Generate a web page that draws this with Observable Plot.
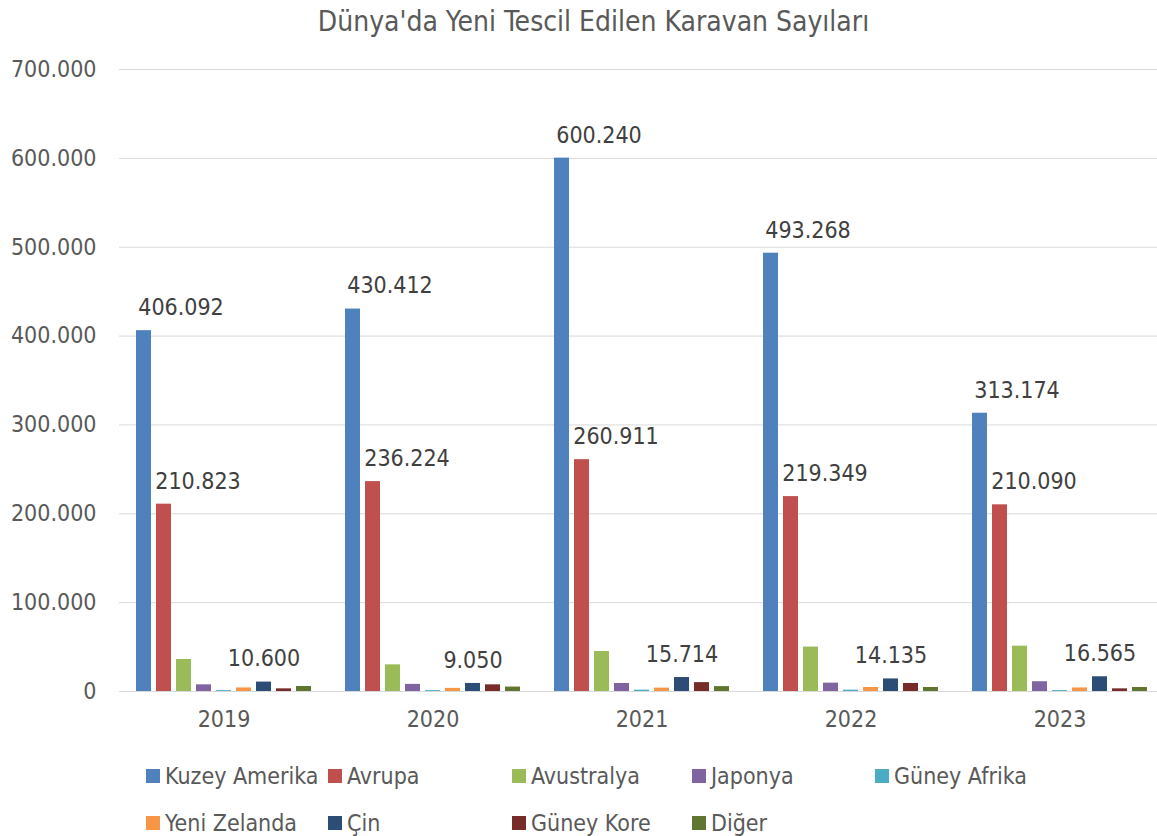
<!DOCTYPE html>
<html>
<head>
<meta charset="utf-8">
<script src="https://cdn.jsdelivr.net/npm/d3@7"></script>
<script src="https://cdn.jsdelivr.net/npm/@observablehq/plot@0.6"></script>
<style>
  html, body { margin: 0; padding: 0; background: #fff; }
  body { width: 1157px; height: 836px; overflow: hidden; font-family: "DejaVu Sans Condensed", "DejaVu Sans", sans-serif; font-stretch: condensed; color: #595959; }
  #title { height: 45px; line-height: 44px; text-align: center; font-size: 28px; color: #595959; padding-left: 30px; box-sizing: border-box; }
  #legend { position: relative; height: 95px; font-size: 23px; color: #595959; }
  .item { position: absolute; display: flex; align-items: center; white-space: nowrap; height: 30px; }
  .sw { width: 14px; height: 14px; margin-right: 5px; flex: none; }
  svg text { font-stretch: condensed; }
</style>
</head>
<body>
<div id="title">Dünya'da Yeni Tescil Edilen Karavan Sayıları</div>
<div id="chart"></div>
<div id="legend"></div>
<script>
const years = ["2019", "2020", "2021", "2022", "2023"];
const series = ["Kuzey Amerika", "Avrupa", "Avustralya", "Japonya", "Güney Afrika", "Yeni Zelanda", "Çin", "Güney Kore", "Diğer"];
const colors = ["#4F81BD", "#C0504D", "#9BBB59", "#8064A2", "#4BACC6", "#F79646", "#2C4D75", "#772C2A", "#5F7530"];
const kuzeyAmerika = [406092, 430412, 600240, 493268, 313174];
const avrupa = [210823, 236224, 260911, 219349, 210090];
const avustralya = [36000, 30000, 45000, 50000, 51000];
const japonya = [7500, 8000, 9000, 9400, 11000];
const guneyAfrika = [1000, 1000, 1500, 1500, 1000];
const yeniZelanda = [4000, 3500, 3800, 4500, 4000];
const cin = [10600, 9050, 15714, 14135, 16565];
const guneyKore = [3000, 7500, 10000, 9000, 3000];
const diger = [5600, 5000, 5500, 4500, 4500];
const labeled = ["Kuzey Amerika", "Avrupa", "Çin"];
const yTicks = [0, 100000, 200000, 300000, 400000, 500000, 600000, 700000];

const valuesBySeries = [kuzeyAmerika, avrupa, avustralya, japonya, guneyAfrika, yeniZelanda, cin, guneyKore, diger];
const data = [];
years.forEach((y, i) => series.forEach((s, j) => data.push({year: y, series: s, value: valuesBySeries[j][i]})));

const loc = d3.formatLocale({decimal: ",", thousands: ".", grouping: [3], currency: ["", ""]});
const fmt = loc.format(",d");

const labelDx = {"Kuzey Amerika": 37, "Avrupa": 34, "Çin": 0};

const chart = Plot.plot({
  width: 1157,
  height: 696,
  marginTop: 24,
  marginBottom: 50,
  marginLeft: 118,
  marginRight: 0,
  style: {fontFamily: "'DejaVu Sans Condensed', 'DejaVu Sans', sans-serif", color: "#595959", background: "#fff"},
  fx: {domain: years, range: [118, 1165], padding: 0, label: null},
  x: {domain: series, range: [118, 327.4], paddingInner: 0.25, paddingOuter: 0.855, axis: null},
  y: {domain: [0, 700000], ticks: yTicks, tickFormat: fmt, label: null},
  color: {domain: series, range: colors},
  marks: [
    Plot.gridY(yTicks, {stroke: "#d9d9d9", strokeOpacity: 1, facetAnchor: null}),
    Plot.axisY({ticks: yTicks, tickFormat: fmt, tickSize: 0, tickPadding: 23, fontSize: 23, label: null, fill: "#595959"}),
    Plot.axisFx({anchor: "bottom", tickSize: 0, tickPadding: 19, fontSize: 23, label: null, fill: "#595959"}),
    Plot.barY(data, {fx: "year", x: "series", y: "value", fill: "series"}),
    ...labeled.map(s => Plot.text(data.filter(d => d.series === s), {
      fx: "year", x: "series", y: "value", text: d => fmt(d.value),
      dy: -23, dx: labelDx[s], fontSize: 23, fill: "#404040", lineAnchor: "middle"
    })),
    Plot.ruleY([0], {stroke: "#d9d9d9", facetAnchor: null})
  ]
});
document.getElementById("chart").appendChild(chart);

const legendPos = [
  [146, 35], [328, 35], [512, 35], [692, 35], [875, 35],
  [146, 82], [328, 82], [512, 82], [692, 82]
];
const legend = document.getElementById("legend");
series.forEach((s, i) => {
  const el = document.createElement("div");
  el.className = "item";
  el.style.left = legendPos[i][0] + "px";
  el.style.top = (legendPos[i][1] - 15) + "px";
  el.innerHTML = `<span class="sw" style="background:${colors[i]}"></span><span>${s}</span>`;
  legend.appendChild(el);
});
</script>
</body>
</html>
